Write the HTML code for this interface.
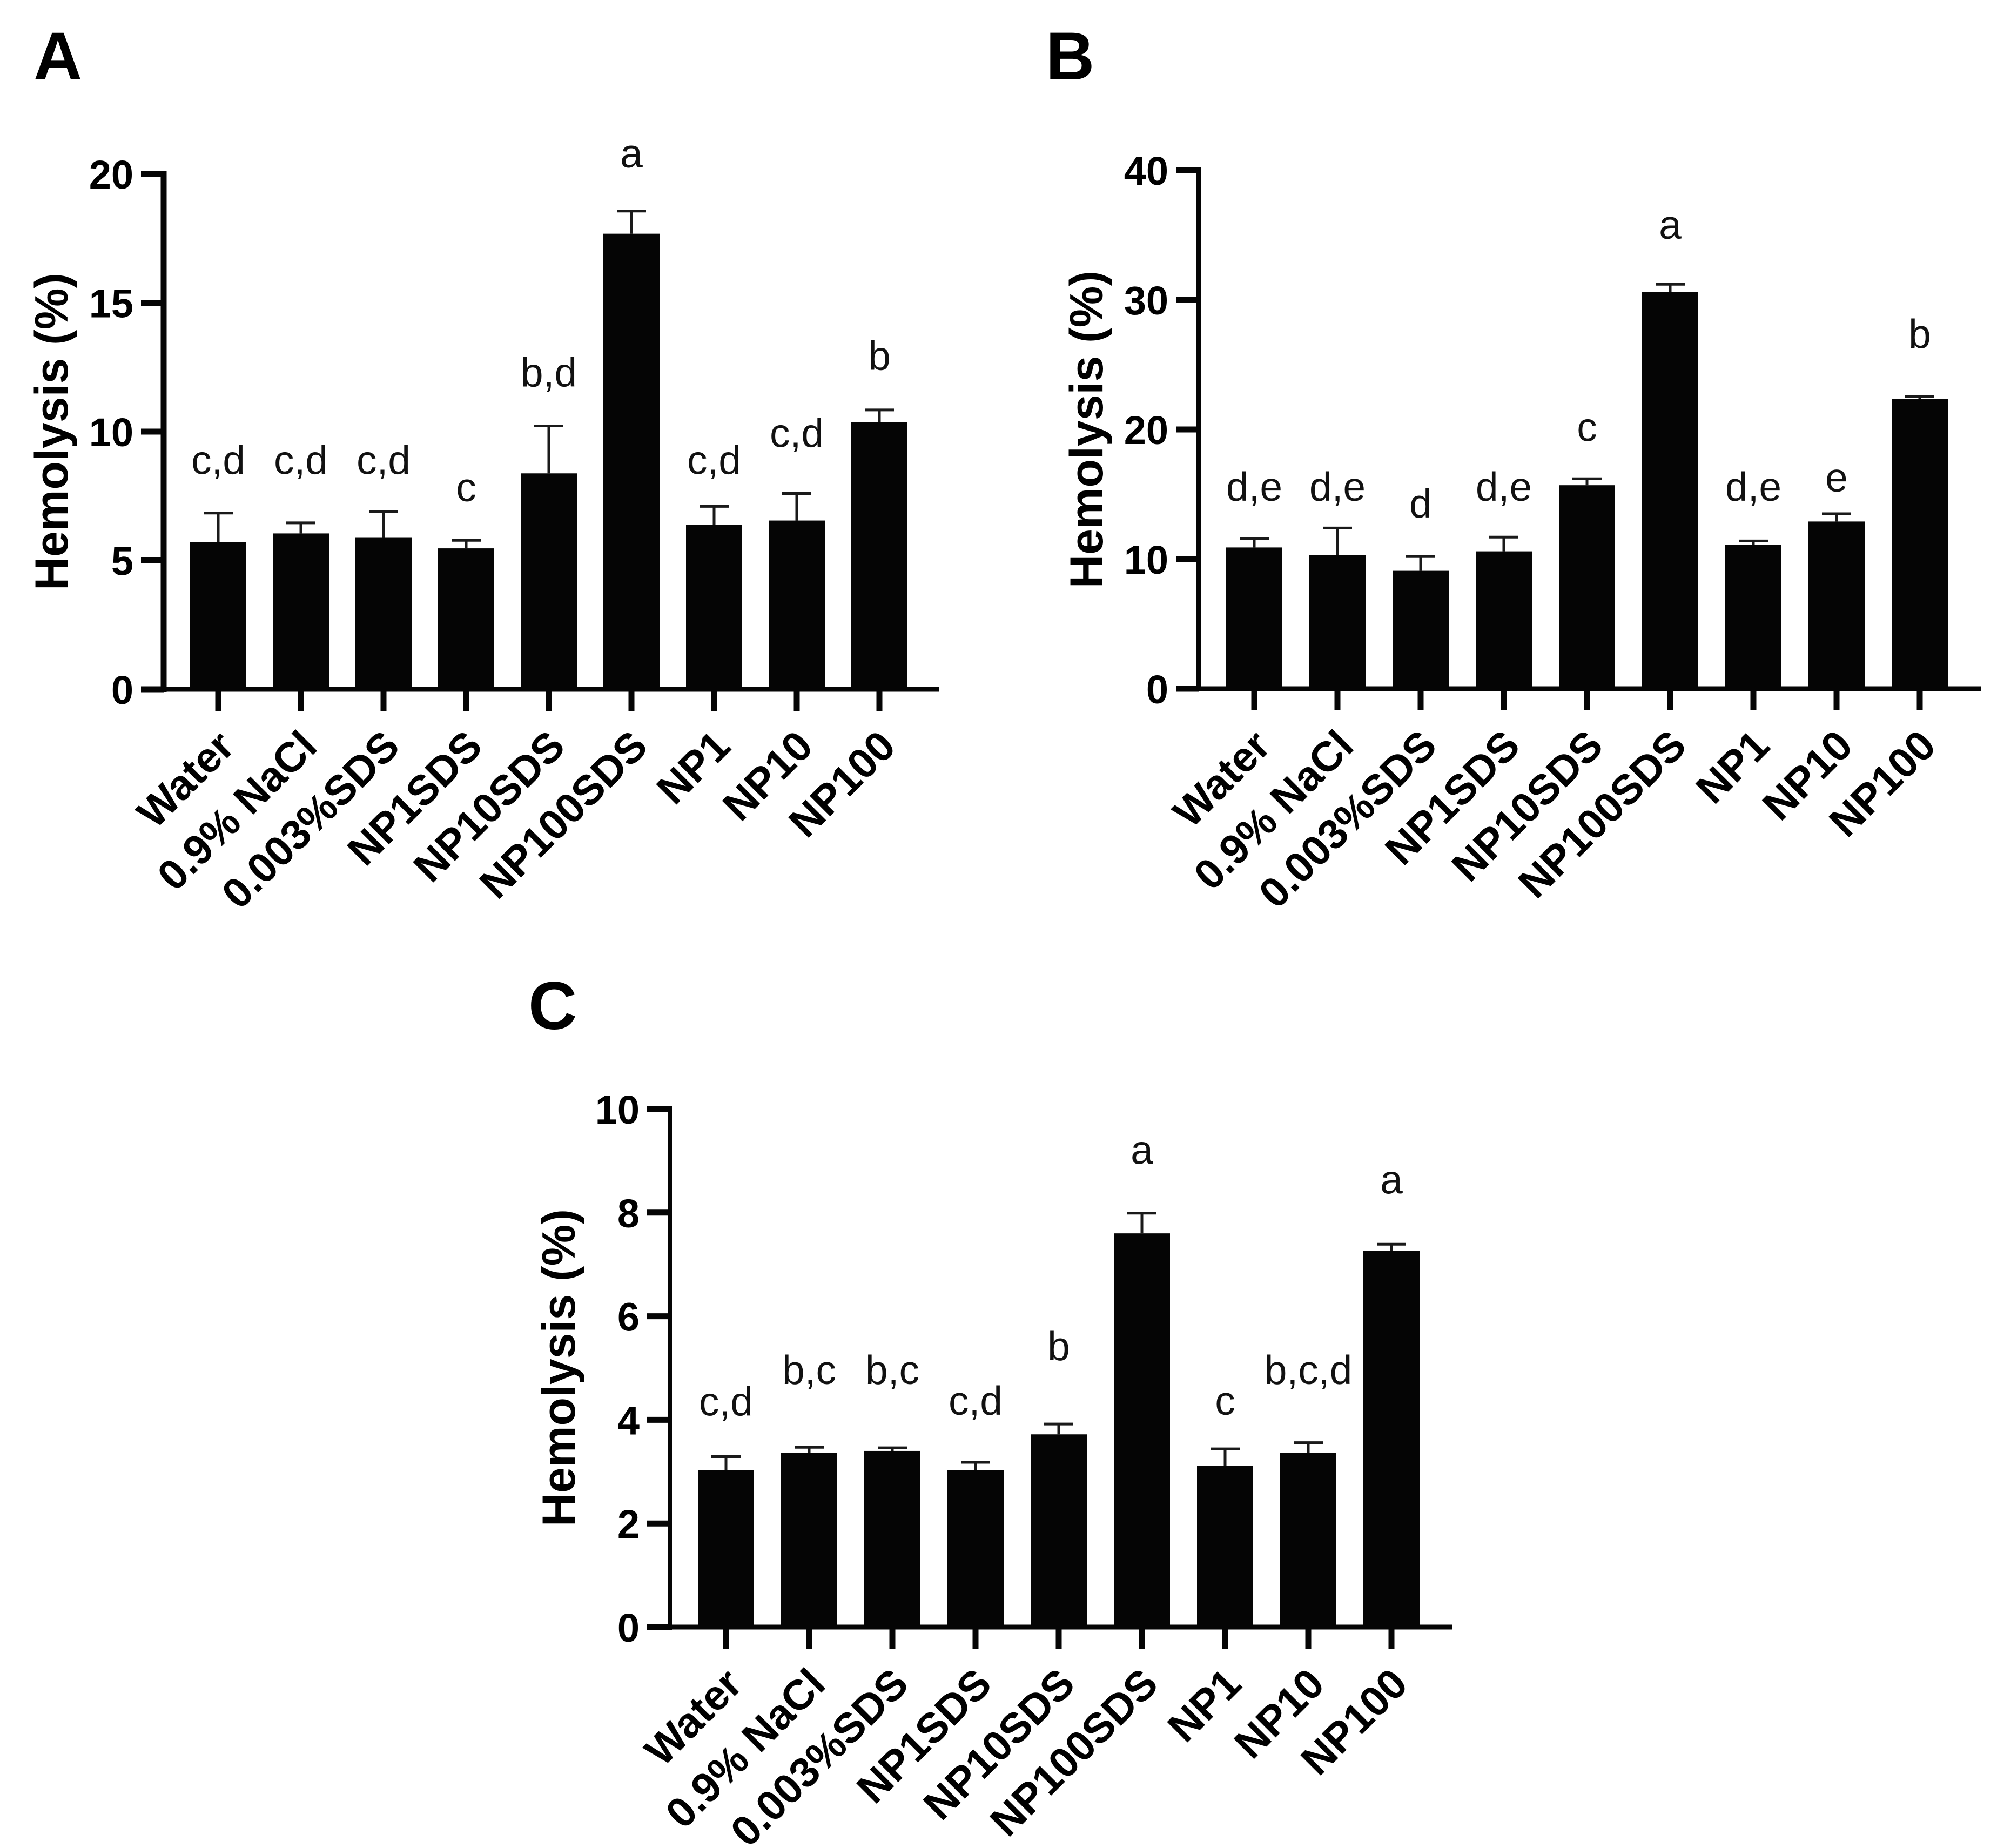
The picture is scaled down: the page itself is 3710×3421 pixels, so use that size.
<!DOCTYPE html>
<html><head><meta charset="utf-8">
<style>
html,body{margin:0;padding:0;background:#fff;}
svg{display:block;}
text{font-family:"Liberation Sans",Arial,sans-serif;}
</style></head>
<body>
<svg id="fig" xmlns="http://www.w3.org/2000/svg" width="3710" height="3421" viewBox="0 0 3710 3421">
<rect x="0" y="0" width="3710" height="3421" fill="#fff"/>
<text x="62" y="147" font-size="125" font-weight="bold">A</text>
<text x="1936" y="147" font-size="125" font-weight="bold">B</text>
<text x="978" y="1905" font-size="125" font-weight="bold">C</text>
</svg>
<script>
const categories = ["Water","0.9% NaCl","0.003%SDS","NP1SDS","NP10SDS","NP100SDS","NP1","NP10","NP100"];

const ticksA = [0,5,10,15,20];
const meansA = [5.72,6.05,5.88,5.47,8.38,17.68,6.39,6.55,10.36];
const errA   = [6.84,6.46,6.90,5.78,10.22,18.56,7.10,7.60,10.84];
const lettersA = ["c,d","c,d","c,d","c","b,d","a","c,d","c,d","b"];
const letterLevelA = [8.35,8.35,8.35,7.3,11.75,20.25,8.35,9.4,12.4];

const ticksB = [0,10,20,30,40];
const meansB = [10.9,10.3,9.1,10.6,15.7,30.6,11.1,12.9,22.35];
const errB   = [11.6,12.4,10.2,11.7,16.2,31.2,11.4,13.5,22.55];
const lettersB = ["d,e","d,e","d","d,e","c","a","d,e","e","b"];
const letterLevelB = [14.5,14.5,13.2,14.5,19.1,34.7,14.5,15.2,26.3];

const ticksC = [0,2,4,6,8,10];
const meansC = [3.03,3.36,3.40,3.03,3.72,7.60,3.11,3.36,7.26];
const errC   = [3.29,3.47,3.46,3.18,3.92,7.99,3.44,3.56,7.39];
const lettersC = ["c,d","b,c","b,c","c,d","b","a","c","b,c,d","a"];
const letterLevelC = [4.08,4.69,4.69,4.1,5.15,8.94,4.1,4.69,8.37];

const NS = "http://www.w3.org/2000/svg";
const svg = document.getElementById('fig');
function mk(tag, attrs, parent){
  const e = document.createElementNS(NS, tag);
  for (const k in attrs) e.setAttribute(k, attrs[k]);
  (parent||svg).appendChild(e);
  return e;
}

function panel(cfg){
  const g = mk('g', {});
  
  
  const yMax = cfg.ticks[cfg.ticks.length-1];
  const yScale = v => cfg.y0 - (v / yMax) * (cfg.y0 - cfg.yTop);
  const xScale = i => cfg.x0 + i * cfg.step;

  cfg.means.forEach((v,i)=>{
    const cx = xScale(i);
    const r = mk('rect', {x: cx-52, y: yScale(v), width: 104, height: cfg.y0 - yScale(v), fill:'#050505'}, g);
    
    
    const e = mk('path', {d:`M${cx} ${yScale(v)} V${yScale(cfg.err[i])} M${cx-27} ${yScale(cfg.err[i])} H${cx+27}`, stroke:'#1a1a1a', 'stroke-width':5, fill:'none'}, g);
    
    
    const t = mk('text', {x: cx, y: yScale(cfg.levels[i]), 'font-size':75, 'text-anchor':'middle', fill:'#111'}, g);
    t.textContent = cfg.letters[i];
    
    
    const tk = mk('line', {x1: cx, x2: cx, y1: cfg.y0, y2: cfg.y0+40, stroke:'#050505', 'stroke-width':11}, g);
    
    
    const lx = cx + 34, ly = cfg.y0 + 110;
    const lb = mk('text', {x: lx, y: ly, 'font-size':78, 'font-weight':'bold', 'text-anchor':'end', transform:`rotate(-45 ${lx} ${ly})`}, g);
    lb.textContent = categories[i];
    
    
  });

  const ya = mk('line', {x1: cfg.ax, x2: cfg.ax, y1: yScale(yMax)-5, y2: cfg.y0+5, stroke:'#050505', 'stroke-width':cfg.aw}, g);
  
  
  const xa = mk('line', {x1: cfg.ax-42, x2: cfg.xEnd, y1: cfg.y0, y2: cfg.y0, stroke:'#050505', 'stroke-width':9}, g);
  
  
  cfg.ticks.forEach((tv,j)=>{
    const y = yScale(tv);
    const tl = mk('line', {x1: cfg.ax-42, x2: cfg.ax, y1: y, y2: y, stroke:'#050505', 'stroke-width':11}, g);
    
    
    const tt = mk('text', {x: cfg.ax-56, y: y+27, 'font-size':74, 'font-weight':'bold', 'text-anchor':'end'}, g);
    tt.textContent = String(tv);
    
    
  });
  const tx = cfg.titleX, ty = cfg.titleY;
  const yt = mk('text', {x: tx, y: ty, 'font-size':86, 'font-weight':'bold', 'text-anchor':'middle', transform:`rotate(-90 ${tx} ${ty})`}, g);
  yt.textContent = 'Hemolysis (%)';
  
  
}

panel({id:'a', ticks:ticksA, means:meansA, err:errA, letters:lettersA, levels:letterLevelA,
  y0:1276, yTop:322, x0:404, step:153, ax:303, aw:11, xEnd:1738, titleX:125, titleY:799});
panel({id:'b', ticks:ticksB, means:meansB, err:errB, letters:lettersB, levels:letterLevelB,
  y0:1275, yTop:315, x0:2322, step:154, ax:2219, aw:8, xEnd:3667, titleX:2041, titleY:795});
panel({id:'c', ticks:ticksC, means:meansC, err:errC, letters:lettersC, levels:letterLevelC,
  y0:3012, yTop:2053, x0:1344, step:154, ax:1240, aw:8, xEnd:2688, titleX:1064, titleY:2532});
</script>
</body></html>
